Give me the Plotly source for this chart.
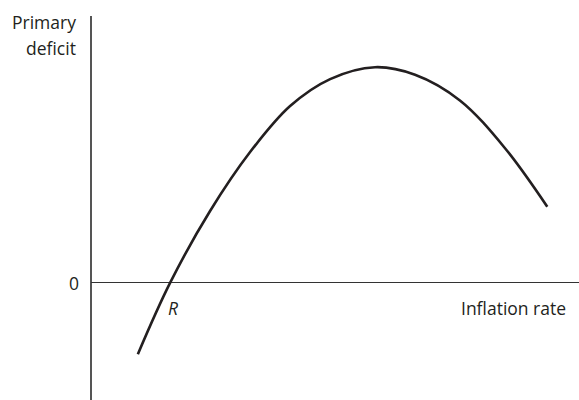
import plotly.graph_objects as go

# Laffer-type curve: primary deficit vs inflation rate (arbitrary units)
inflation = [9.6, 16.2, 24.4, 32.6, 40.8, 49.0, 58.2, 66.4, 75.6, 84.8, 93.5]
deficit = [-33.0, 0.0, 33.3, 60.6, 81.9, 94.4, 99.9, 96.4, 84.5, 62.5, 35.3]

font = dict(family="Open Sans, Lato, sans-serif", size=17.5, color="#231f20")

fig = go.Figure()
fig.add_trace(go.Scatter(
    x=inflation, y=deficit,
    mode="lines",
    line=dict(color="#231f20", width=2.6, shape="spline", smoothing=1),
    hoverinfo="skip",
    showlegend=False,
))

# labels left of the vertical axis sit in paper x so they are not hidden
annotations = [
    dict(x=-0.026, xref="paper", y=120.8, text="Primary", xanchor="right"),
    dict(x=-0.026, xref="paper", y=108.8, text="deficit", xanchor="right"),
    dict(x=-0.035, xref="paper", y=0, text="0", xanchor="center"),
    dict(x=16.8, y=-11.6, text="<i>R</i>", xanchor="center"),
    dict(x=86.5, y=-11.4, text="Inflation rate", xanchor="center"),
]
for a in annotations:
    fig.add_annotation(**a, yanchor="middle", showarrow=False, font=font)

fig.update_layout(
    width=579, height=400,
    margin=dict(l=91, r=0, t=16, b=0),
    paper_bgcolor="white", plot_bgcolor="white",
    xaxis=dict(range=[0, 100], showgrid=False, showticklabels=False, ticks="",
               zeroline=True, zerolinecolor="#555555", zerolinewidth=1.5,
               fixedrange=True),
    yaxis=dict(range=[-54.2, 123.6], showgrid=False, showticklabels=False, ticks="",
               zeroline=True, zerolinecolor="#333333", zerolinewidth=1.3,
               fixedrange=True),
)

fig.write_html("out.html", config={"displayModeBar": False},
               post_script="document.body.style.margin='0';")
